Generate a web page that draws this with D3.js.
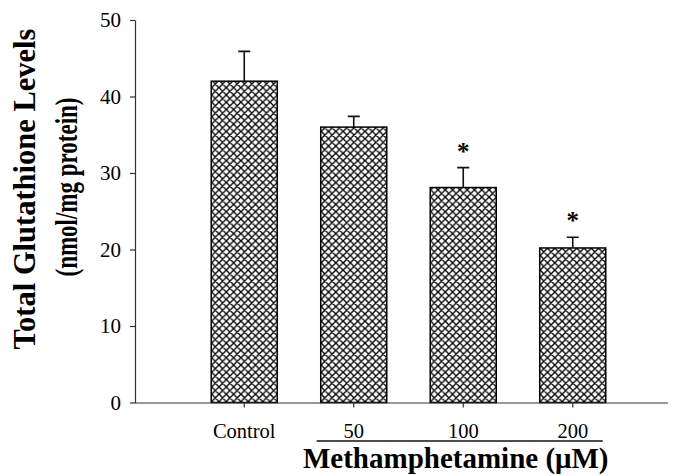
<!DOCTYPE html>
<html>
<head>
<meta charset="utf-8">
<script src="https://cdn.jsdelivr.net/npm/d3@7"></script>
<style>
  body { margin: 0; background: #fff; }
  svg { display: block; }
</style>
</head>
<body>
<svg id="chart" width="674" height="476"></svg>
<script>
const groups = ["Control", "50", "100", "200"];
const means = [42, 36, 28.1, 20.2];
const errors = [3.9, 1.4, 2.6, 1.4];
const significant = [false, false, true, true];
const yTicks = [0, 10, 20, 30, 40, 50];

const svg = d3.select("#chart");
const serif = "'Liberation Serif', 'Times New Roman', Times, serif";

const x = d3.scaleBand()
    .domain(groups)
    .range([189.5, 627.5])
    .paddingInner(0.397)
    .paddingOuter(0.397 / 2);

const y = d3.scaleLinear()
    .domain([0, 50])
    .range([402.5, 20]);

// crosshatch fill
const defs = svg.append("defs");
const pat = defs.append("pattern")
    .attr("id", "hatch")
    .attr("patternUnits", "userSpaceOnUse")
    .attr("width", 7.3)
    .attr("height", 7.3);
pat.append("rect").attr("width", 7.3).attr("height", 7.3).attr("fill", "#fff");
pat.append("path")
    .attr("d", "M-1,-1 L8.3,8.3 M-1,8.3 L8.3,-1 M-4.65,2.65 L2.65,-4.65 M4.65,11.95 L11.95,4.65 M-4.65,4.65 L2.65,11.95 M4.65,-2.65 L11.95,4.65")
    .attr("stroke", "#000")
    .attr("stroke-width", 1.3);

const rows = groups.map((g, i) => ({ g, m: means[i], e: errors[i], s: significant[i] }));

// bars
svg.selectAll("rect.bar")
    .data(rows)
    .join("rect")
    .attr("class", "bar")
    .attr("x", d => x(d.g))
    .attr("y", d => y(d.m))
    .attr("width", x.bandwidth())
    .attr("height", d => y(0) - y(d.m))
    .attr("fill", "url(#hatch)")
    .attr("stroke", "#000")
    .attr("stroke-width", 1.5);

// error bars (upper only)
const cap = 6;
svg.selectAll("path.err")
    .data(rows)
    .join("path")
    .attr("class", "err")
    .attr("d", d => {
        const cx = x(d.g) + x.bandwidth() / 2;
        return `M${cx},${y(d.m)}V${y(d.m + d.e)}M${cx - cap},${y(d.m + d.e)}H${cx + cap}`;
    })
    .attr("fill", "none")
    .attr("stroke", "#111")
    .attr("stroke-width", 1.6);

// asterisks
svg.selectAll("text.star")
    .data(rows.filter(d => d.s))
    .join("text")
    .attr("class", "star")
    .attr("x", d => x(d.g) + x.bandwidth() / 2)
    .attr("y", d => y(d.m + d.e) - 20 + 12)
    .attr("text-anchor", "middle")
    .attr("font-family", serif)
    .attr("font-weight", "bold")
    .attr("font-size", 25)
    .text("*");

// y axis
const yAxis = svg.append("g")
    .attr("transform", "translate(135,0)")
    .call(d3.axisLeft(y).tickValues(yTicks).tickSize(5).tickSizeOuter(0).tickPadding(9));
yAxis.selectAll("text")
    .attr("font-family", serif)
    .attr("font-size", 21)
    .attr("fill", "#000");
yAxis.selectAll("line, path").attr("stroke", "#333").attr("stroke-width", 1.2);

// x axis
const xAxis = svg.append("g")
    .attr("transform", `translate(0,${y(0)})`)
    .call(d3.axisBottom(x).tickSize(5).tickSizeOuter(0).tickPadding(16));
xAxis.select(".domain").attr("d", `M135,0.5H668`);
xAxis.selectAll("text")
    .attr("font-family", serif)
    .attr("font-size", 20.5)
    .attr("fill", "#000");
xAxis.selectAll("line, path").attr("stroke", "#333").attr("stroke-width", 1.2);

// dose group underline and title
const ux0 = x("50") - 4;
const ux1 = x("200") + x.bandwidth() - 3;
svg.append("line")
    .attr("x1", ux0).attr("x2", ux1)
    .attr("y1", 441).attr("y2", 441)
    .attr("stroke", "#111")
    .attr("stroke-width", 1.5);

svg.append("text")
    .attr("x", (ux0 + ux1) / 2 - 4)
    .attr("y", 468)
    .attr("text-anchor", "middle")
    .attr("font-family", serif)
    .attr("font-weight", "bold")
    .attr("font-size", 29)
    .text("Methamphetamine (\u03BCM)");

// y title
svg.append("text")
    .attr("transform", "translate(35,189) rotate(-90)")
    .attr("text-anchor", "middle")
    .attr("font-family", serif)
    .attr("font-weight", "bold")
    .attr("font-size", 30.5)
    .text("Total Glutathione Levels");

svg.append("text")
    .attr("transform", "translate(77,187) rotate(-90) scale(1,1.35)")
    .attr("text-anchor", "middle")
    .attr("font-family", serif)
    .attr("font-weight", "bold")
    .attr("font-size", 23)
    .text("(nmol/mg protein)");
</script>
</body>
</html>
